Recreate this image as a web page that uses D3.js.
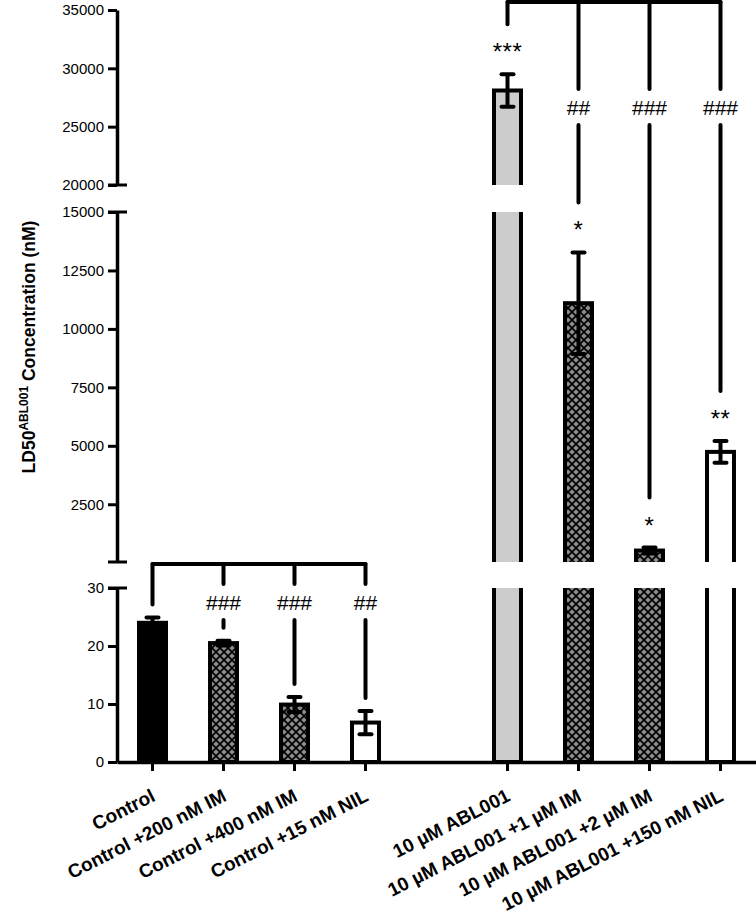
<!DOCTYPE html>
<html><head><meta charset="utf-8">
<script src="https://cdn.jsdelivr.net/npm/d3@7"></script>
<style>
html,body{margin:0;padding:0;background:#fff;}
svg{display:block;font-family:"Liberation Sans",Arial,sans-serif;}
</style></head><body>
<svg id="chart" width="756" height="915"></svg>
<script>
// ---- data ----
const categories = ["Control","Control +200 nM IM","Control +400 nM IM","Control +15 nM NIL",
  "10 µM ABL001","10 µM ABL001 +1 µM IM","10 µM ABL001 +2 µM IM","10 µM ABL001 +150 nM NIL"];
const groups = [0,0,0,0,1,1,1,1];
const means = [24.0, 20.5, 9.9, 6.8, 28100, 11100, 520, 4740];
const sems  = [0.9, 0.4, 1.3, 2.0, 1400, 2170, 130, 460];
const fillTypes = ["black","hatch","hatch","white","gray","hatch","hatch","white"];
const hashLabels = ["","###","###","##","","##","###","###"];
const starLabels = ["","","","","***","*","*","**"];
const topTicks = [20000,25000,30000,35000];
const midTicks = [2500,5000,7500,10000,12500,15000];
const lowTicks = [0,10,20,30];
const segmentDomains = [[20000,35000],[30,15000],[0,30]];
const yTitleMain = "LD50", yTitleSup = "ABL001", yTitleRest = " Concentration (nM)";

// ---- layout ----
const svg = d3.select("#chart");
const W = 756, axisX = 117, baseY = 762;
const FONT = '"Liberation Sans",Arial,sans-serif';
const slots = [...categories.slice(0,4), "__gap__", ...categories.slice(4)];
const x = d3.scaleBand().domain(slots).range([axisX, W]).paddingInner(0.62).paddingOuter(0.31);
const cx = c => x(c) + x.bandwidth()/2;
const segRanges = [[185,10],[562,212],[baseY,588]];
const segTicks = [topTicks, midTicks, lowTicks];
const segs = segmentDomains.map((d,i)=>({scale: d3.scaleLinear().domain(d).range(segRanges[i]), ticks: segTicks[i]}));
const segFor = v => segs.find(s => v > s.scale.domain()[0] && v <= s.scale.domain()[1]) || segs[2];

const defs = svg.append("defs");
const pat = defs.append("pattern").attr("id","hatch").attr("patternUnits","userSpaceOnUse")
  .attr("width",8).attr("height",8);
pat.append("rect").attr("width",8).attr("height",8).attr("fill","#000");
const dia = (px,py,r)=>`M${px},${py-r}L${px+r},${py}L${px},${py+r}L${px-r},${py}Z`;
[[4,4],[0,0],[8,0],[0,8],[8,8]].forEach(([px,py])=>pat.append("path").attr("d",dia(px,py,2.8)).attr("fill","#8c8c8c"));
const fillOf = t => t==="black" ? "#000" : t==="white" ? "#fff" : t==="gray" ? "#cccccc" : "url(#hatch)";

// ---- bars (per broken-axis segment) ----
segs.forEach((s,si)=>{
  const [d0,d1] = s.scale.domain();
  const [r0,r1] = s.scale.range();
  const isLow = si===2;
  defs.append("clipPath").attr("id","clip"+si).append("rect")
    .attr("x",0).attr("y",r1).attr("width",W).attr("height",(r0-r1)+(isLow?4:0));
  const g = svg.append("g").attr("clip-path",`url(#clip${si})`);
  categories.forEach((c,i)=>{
    const v = means[i];
    if (v <= d0) return;
    const top = v >= d1 ? r1-20 : s.scale(v);
    const bottom = isLow ? s.scale(0) : r0+20;
    g.append("rect").attr("x",x(c)).attr("width",x.bandwidth())
      .attr("y",top).attr("height",bottom-top)
      .attr("fill",fillOf(fillTypes[i])).attr("stroke","#000").attr("stroke-width",4);
  });
});

// ---- error bars ----
categories.forEach((c,i)=>{
  const s = segFor(means[i]).scale;
  const g = svg.append("g").attr("stroke","#000").attr("stroke-width",4);
  const yHi = s(means[i]+sems[i]), yLo = s(means[i]-sems[i]);
  g.append("line").attr("x1",cx(c)).attr("x2",cx(c)).attr("y1",yHi).attr("y2",yLo);
  [yHi,yLo].forEach(yy=>g.append("line").attr("x1",cx(c)-6).attr("x2",cx(c)+6)
    .attr("y1",yy).attr("y2",yy).attr("stroke-linecap","round"));
});

// ---- y axes ----
segs.forEach(s=>{
  const ax = d3.axisLeft(s.scale).tickValues(s.ticks).tickSize(9).tickSizeOuter(0).tickPadding(4).tickFormat(d3.format("d"));
  const g = svg.append("g").attr("transform",`translate(${axisX},0)`).call(ax);
  g.attr("font-family",null).attr("font-size",null);
  g.select(".domain").attr("stroke","#000").attr("stroke-width",3.5);
  g.selectAll(".tick line").attr("stroke","#000").attr("stroke-width",3);
  g.selectAll(".tick text").attr("fill","#000").attr("font-size",15).attr("font-family",FONT);
});
[segs[0].scale.range()[0], segs[1].scale.range()[1], segs[1].scale.range()[0], segs[2].scale.range()[1]]
  .forEach(yy=>svg.append("line").attr("x1",axisX-9).attr("x2",axisX+10).attr("y1",yy).attr("y2",yy)
    .attr("stroke","#000").attr("stroke-width",3));

// ---- x axis ----
const gx = svg.append("g").attr("transform",`translate(0,${baseY})`)
  .call(d3.axisBottom(x).tickSize(9).tickSizeOuter(0).tickFormat(""));
gx.selectAll(".tick").filter(d=>d==="__gap__").remove();
gx.select(".domain").attr("stroke","#000").attr("stroke-width",3.5);
gx.selectAll(".tick line").attr("stroke","#000").attr("stroke-width",3);
categories.forEach(c=>{
  svg.append("text").attr("transform",`translate(${cx(c)+4},${baseY+38}) rotate(-27)`)
    .attr("text-anchor","end").attr("font-weight","bold").attr("font-size",19).attr("fill","#000").text(c);
});

// ---- y title ----
const yl = svg.append("text").attr("transform","translate(35,347) rotate(-90)")
  .attr("text-anchor","middle").attr("font-weight","bold").attr("font-size",17.5).attr("fill","#000");
yl.append("tspan").text(yTitleMain);
yl.append("tspan").attr("font-size",12).attr("dy",-7).text(yTitleSup);
yl.append("tspan").attr("dy",7).text(yTitleRest);

// ---- significance annotations ----
const lowS = segs[2].scale, topS = segs[0].scale;
const bracketY = [lowS(30)-24, topS(35000)-8];
const hashY = [lowS(30)+15, topS(35000)+98];
const ann = svg.append("g").attr("stroke","#000").attr("stroke-width",4).attr("stroke-linecap","round");
[0,1].forEach(gi=>{
  const idx = categories.map((c,i)=>i).filter(i=>groups[i]===gi);
  ann.append("line").attr("x1",cx(categories[idx[0]])).attr("x2",cx(categories[idx[idx.length-1]]))
    .attr("y1",bracketY[gi]).attr("y2",bracketY[gi]);
});
categories.forEach((c,i)=>{
  const gi = groups[i];
  const capY = segFor(means[i]).scale(means[i]+sems[i]);
  const starC = capY - 28;
  const end = starLabels[i] ? starC - 22 : capY - 13;
  const pieces = hashLabels[i] ? [[bracketY[gi], hashY[gi]-19],[hashY[gi]+17, end]] : [[bracketY[gi], end]];
  pieces.forEach(([a,b])=>{ if (b>a) ann.append("line").attr("x1",cx(c)).attr("x2",cx(c)).attr("y1",a).attr("y2",b); });
  if (hashLabels[i]) svg.append("text").attr("x",cx(c)).attr("y",hashY[gi]+7).attr("text-anchor","middle")
    .attr("font-size",21).attr("fill","#000").text(hashLabels[i]);
  if (starLabels[i]) svg.append("text").attr("x",cx(c)).attr("y",starC+14).attr("text-anchor","middle")
    .attr("font-size",24).attr("letter-spacing",0.5).attr("fill","#000").text(starLabels[i]);
});
</script>
</body></html>
